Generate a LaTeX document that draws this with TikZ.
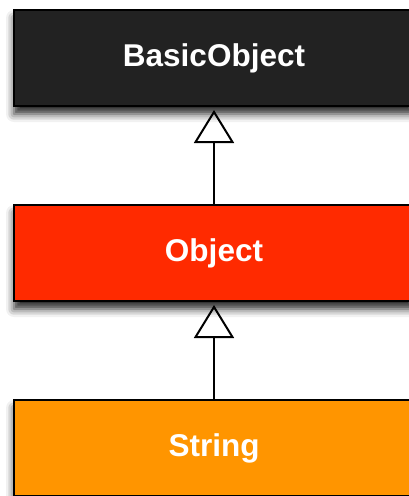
\documentclass[tikz,border=0pt]{standalone}
\usepackage{fontspec}
\setmainfont{Liberation Sans}
\usetikzlibrary{arrows.meta,shadows.blur}
\definecolor{basicgray}{HTML}{222222}
\definecolor{objred}{HTML}{FF2A00}
\definecolor{strorange}{HTML}{FF9500}
\begin{document}
\begin{tikzpicture}[x=1pt,y=1pt,
	classbox/.style={draw=black, line width=2pt, minimum width=400pt, minimum height=96pt,
		text=white, font=\bfseries\fontsize{31.5}{37}\selectfont,
		blur shadow={shadow xshift=0pt, shadow yshift=-8pt, shadow blur radius=8pt, shadow opacity=85}},
	inherit/.style={line width=2pt, -{Triangle[open,width=40pt,length=33pt]}, shorten >=3pt}]
			\useasboundingbox (0,0) rectangle (409,-496);
			\node	(basic) at (214,-58) [classbox, fill=basicgray] {BasicObject};
			\node	(object) at (214,-253) [classbox, fill=objred] {Object};
			\node	(string) at (214,-448) [classbox, fill=strorange] {String};
			
			\draw 
			(object) edge[inherit] (basic)
			(string) edge[inherit] (object)
			;
		\end{tikzpicture}
\end{document}
